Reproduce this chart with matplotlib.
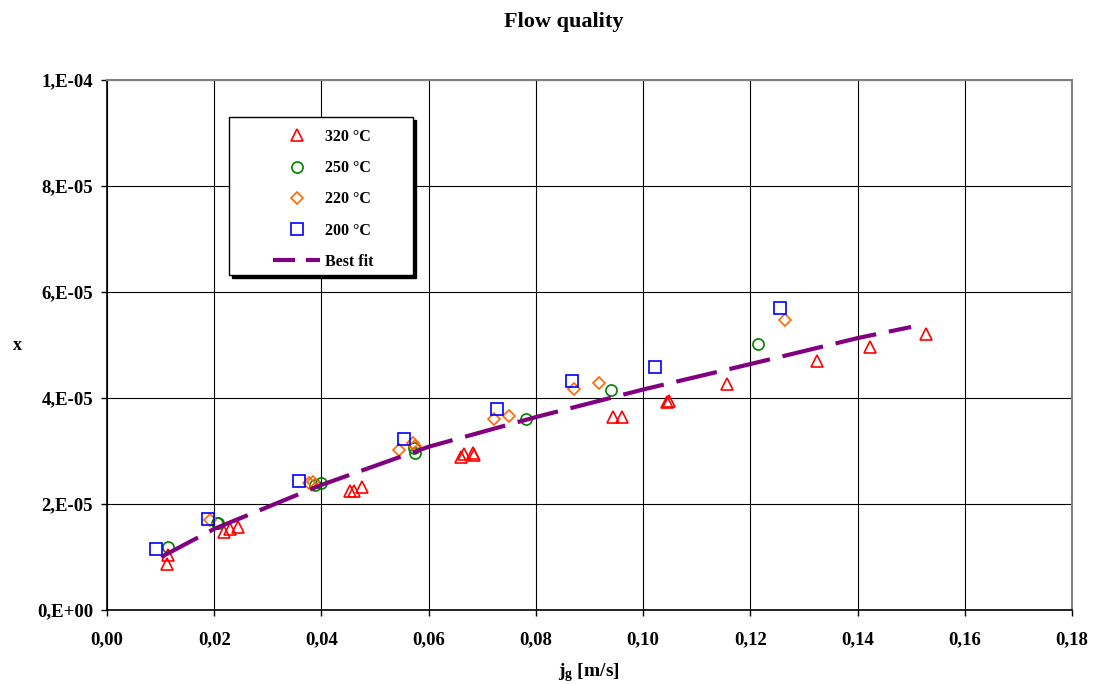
import matplotlib
matplotlib.use("Agg")
import matplotlib.pyplot as plt
from matplotlib.lines import Line2D
from matplotlib.patches import Rectangle

plt.rcParams['font.family'] = ['Liberation Serif', 'DejaVu Serif']
plt.rcParams['font.weight'] = 'bold'
plt.rcParams['mathtext.fontset'] = 'custom'
plt.rcParams['mathtext.rm'] = 'Liberation Serif:bold'
plt.rcParams['mathtext.default'] = 'rm'

# data (y in units of 1e-5)
x_320 = [0.0112, 0.0114, 0.0219, 0.0229, 0.0245, 0.0453, 0.0461, 0.0476, 0.0660,
         0.0665, 0.0683, 0.0685, 0.0944, 0.0960, 0.1044, 0.1049, 0.1157, 0.1324,
         0.1424, 0.1527]
y_320 = [0.87, 1.03, 1.48, 1.52, 1.57, 2.25, 2.24, 2.33, 2.88,
         2.94, 2.96, 2.93, 3.64, 3.64, 3.93, 3.95, 4.26, 4.69,
         4.96, 5.20]

x_250 = [0.0113, 0.0205, 0.0207, 0.0388, 0.0399, 0.0573, 0.0575, 0.0781, 0.0940, 0.1215]
y_250 = [1.19, 1.65, 1.64, 2.35, 2.40, 3.06, 2.96, 3.60, 4.15, 5.01]

x_220 = [0.0192, 0.0377, 0.0385, 0.0545, 0.0571, 0.0574, 0.0722, 0.0750, 0.0872, 0.0918, 0.1265]
y_220 = [1.69, 2.39, 2.42, 3.01, 3.16, 3.10, 3.61, 3.66, 4.17, 4.28, 5.48]

x_200 = [0.0091, 0.0188, 0.0358, 0.0554, 0.0728, 0.0868, 0.1022, 0.1256]
y_200 = [1.15, 1.72, 2.43, 3.23, 3.80, 4.32, 4.58, 5.69]

fit_x = [0.0101, 0.02, 0.04, 0.06, 0.08, 0.10, 0.12, 0.14, 0.150]
fit_y = [1.00, 1.53, 2.36, 3.08, 3.64, 4.16, 4.64, 5.13, 5.34]

x_ticks = [0.00, 0.02, 0.04, 0.06, 0.08, 0.10, 0.12, 0.14, 0.16, 0.18]
y_ticks = [0, 2e-5, 4e-5, 6e-5, 8e-5, 1e-4]
y_labels = ["0,E+00", "2,E-05", "4,E-05", "6,E-05", "8,E-05", "1,E-04"]

fig = plt.figure(figsize=(10.93, 6.84), dpi=100)
ax = fig.add_axes([107/1093, 1-610/684, 965/1093, 530/684])

ax.grid(True, color='black', lw=0.8, zorder=0)
ax.set_axisbelow(True)

def sc(v):
    return [k*1e-5 for k in v]

ax.plot(x_320, sc(y_320), ls='none', marker='^', ms=8.5, mfc='none', mec='#FF0000', mew=1.2, zorder=3)
ax.plot(x_250, sc(y_250), ls='none', marker='o', ms=8, mfc='none', mec='#008000', mew=1.2, zorder=3)
ax.plot(x_220, sc(y_220), ls='none', marker='D', ms=6, mfc='none', mec='#FF6600', mew=1.2, zorder=3)
ax.plot(x_200, sc(y_200), ls='none', marker='s', ms=8, mfc='none', mec='#0000FF', mew=1.2, zorder=3)
fit, = ax.plot(fit_x, sc(fit_y), color='#800080', lw=3, zorder=4)
fit.set_dashes((10, 3.1))

ax.set_xlim(0, 0.18)
ax.set_ylim(0, 1e-4)
ax.set_xticks(x_ticks)
ax.set_xticklabels([("%.2f" % v).replace('.', ',') for v in x_ticks])
ax.set_yticks(y_ticks)
ax.set_yticklabels(y_labels)
ax.tick_params(axis='both', direction='out', length=4, width=1, color='black', labelsize=13.5)
ax.tick_params(axis='x', pad=11.5)
ax.tick_params(axis='y', pad=6)
for s in ['top', 'right']:
    ax.spines[s].set_color('#808080')
    ax.spines[s].set_linewidth(1.5)
for s in ['left', 'bottom']:
    ax.spines[s].set_color('black')
    ax.spines[s].set_linewidth(1.2)

fig.text(563.5/1093, 1-22/684, "Flow quality", ha='center', va='center', fontsize=16, fontweight='bold')
fig.text(589/1093, 1-673/684, "j$_{g}$ [m/s]", ha='center', va='center', fontsize=14, fontweight='bold')
fig.text(17/1093, 1-345/684, "x", ha='center', va='center', fontsize=13, fontweight='bold')

# legend box with shadow
bx0, by0, bw, bh = 229, 117, 184, 158
shadow = Rectangle((bx0+3, 684-by0-bh-3), bw, bh, transform=None, facecolor='black',
                   edgecolor='black', zorder=5)
box = Rectangle((bx0, 684-by0-bh), bw, bh, transform=None, facecolor='white',
                edgecolor='black', lw=1, zorder=6)
fig.patches.extend([shadow, box])

handles = [
    Line2D([], [], ls='none', marker='^', ms=8.5, mfc='none', mec='#FF0000', mew=1.2),
    Line2D([], [], ls='none', marker='o', ms=8, mfc='none', mec='#008000', mew=1.2),
    Line2D([], [], ls='none', marker='D', ms=6, mfc='none', mec='#FF6600', mew=1.2),
    Line2D([], [], ls='none', marker='s', ms=8, mfc='none', mec='#0000FF', mew=1.2),
    Line2D([], [], color='#800080', lw=3, dashes=(5.3, 2.6)),
]
labels = ["320 \u00b0C", "250 \u00b0C", "220 \u00b0C", "200 \u00b0C", "Best fit"]
leg = fig.legend(handles, labels, loc='upper left',
                 bbox_to_anchor=(273/1093, 1-129/684), frameon=False,
                 prop={'size': 11.5, 'weight': 'bold'}, numpoints=1,
                 handlelength=2.95, handletextpad=0.3, labelspacing=0.95,
                 borderpad=0, borderaxespad=0)
leg.set_zorder(7)

fig.savefig("out.png", dpi=100)
